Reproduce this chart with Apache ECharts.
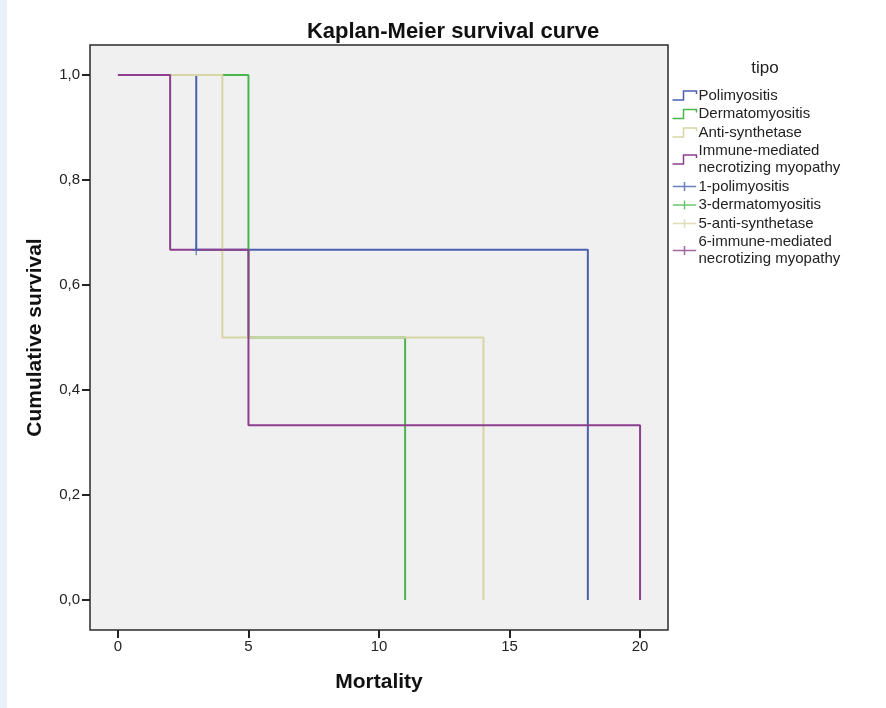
<html>
<head>
    <meta charset="utf-8">
    <script src="https://cdn.jsdelivr.net/npm/echarts@6/dist/echarts.min.js"></script>
    <title>Kaplan-Meier survival curve</title>
    <style>
        html, body { margin: 0; padding: 0; background: #fff; }
        #main { width: 886px; height: 708px; }
    </style>
</head>
<body>
    <div id="main"></div>
    <script>
        // survival steps per group (time, cumulative survival)
        const groupNames = ['Polimyositis', 'Dermatomyositis', 'Anti-synthetase', 'Immune-mediated necrotizing myopathy'];
        const censorNames = ['1-polimyositis', '3-dermatomyositis', '5-anti-synthetase', '6-immune-mediated necrotizing myopathy'];
        const colors = ['#4a60ae', '#48b64c', '#d8d5a4', '#8c3f8c'];

        const polTime = [0, 3, 18];
        const polSurv = [1, 0.667, 0];
        const dermTime = [0, 5, 11];
        const dermSurv = [1, 0.5, 0];
        const antiTime = [0, 4, 14];
        const antiSurv = [1, 0.5, 0];
        const immTime = [0, 2, 5, 20];
        const immSurv = [1, 0.667, 0.333, 0];

        // censored observations
        const polCensor = [[3, 0.667]];
        const dermCensor = [];
        const antiCensor = [];
        const immCensor = [];

        const xTicks = [0, 5, 10, 15, 20];
        const yTicks = [0, 0.2, 0.4, 0.6, 0.8, 1];

        const zip = (a, b) => a.map((v, i) => [v, b[i]]);
        const curves = [zip(polTime, polSurv), zip(dermTime, dermSurv), zip(antiTime, antiSurv), zip(immTime, immSurv)];
        const censors = [polCensor, dermCensor, antiCensor, immCensor];

        const stepIcon = 'path://M0,9 L11,9 L11,0 L24,0 L24,3';
        const crossIcon = 'path://M0,5 L26,5 M13,0 L13,10';
        const font = 'Liberation Sans';

        const drawOrder = [2, 1, 0, 3];
        const series = [];
        drawOrder.forEach(i => {
            series.push({
                name: groupNames[i],
                type: 'line',
                step: 'end',
                data: curves[i],
                symbol: 'none',
                lineStyle: { color: colors[i], width: 2 },
                itemStyle: { color: colors[i] },
                z: 2 + i,
                animation: false
            });
        });
        censors.forEach((c, i) => {
            series.push({
                name: censorNames[i],
                type: 'scatter',
                data: c,
                symbol: 'path://M5,0 L5,12 M0,6 L10,6',
                symbolSize: [8, 11],
                itemStyle: { color: 'none', borderColor: colors[i], borderWidth: 1.5 },
                z: 10,
                animation: false
            });
        });

        const legendData = groupNames.map((n, i) => ({
            name: n, icon: stepIcon,
            itemStyle: { color: 'none', borderColor: colors[i], borderWidth: 1.5 }
        })).concat(censorNames.map((n, i) => ({
            name: n, icon: crossIcon,
            itemStyle: { color: 'none', borderColor: colors[i], borderWidth: 1.5 }
        })));

        const wrapName = (name) => name
            .replace('Immune-mediated necrotizing', 'Immune-mediated\nnecrotizing')
            .replace('6-immune-mediated necrotizing', '6-immune-mediated\nnecrotizing');

        var myChart = echarts.init(document.getElementById('main'));
        myChart.setOption({
            backgroundColor: '#ffffff',
            animation: false,
            title: [{
                text: 'Kaplan-Meier survival curve',
                left: 448, top: 16, textAlign: 'center',
                textStyle: { fontFamily: font, fontSize: 22, fontWeight: 'bold', color: '#111' }
            }, {
                text: 'tipo',
                left: 760, top: 55, textAlign: 'center',
                textStyle: { fontFamily: font, fontSize: 17, fontWeight: 'normal', color: '#222' }
            }],
            graphic: [{
                type: 'rect', left: 0, top: 0, z: -1,
                shape: { width: 7, height: 708 },
                style: { fill: '#eaf0fa' }
            }],
            legend: {
                orient: 'vertical',
                left: 670, top: 87,
                padding: 0,
                itemWidth: 26, itemHeight: 9, itemGap: 1.5,
                selectedMode: false,
                data: legendData,
                formatter: wrapName,
                textStyle: { fontFamily: font, fontSize: 15, lineHeight: 17, color: '#222', padding: [0, 0, 0, -4] }
            },
            grid: {
                show: true,
                left: 90, top: 45, right: 218, bottom: 78,
                backgroundColor: '#f0f0f0',
                borderColor: '#2a2a2a', borderWidth: 1.5
            },
            xAxis: {
                type: 'value',
                min: -1.07, max: 21.07,
                name: 'Mortality',
                nameLocation: 'middle', nameGap: 42,
                nameTextStyle: { fontFamily: font, fontSize: 21, fontWeight: 'bold', color: '#111' },
                axisLine: { show: false, onZero: false },
                splitLine: { show: false },
                axisTick: { show: true, inside: false, customValues: xTicks, length: 8, lineStyle: { color: '#222', width: 2 } },
                axisLabel: { customValues: xTicks, margin: 9, fontFamily: font, fontSize: 15, color: '#222' }
            },
            yAxis: {
                type: 'value',
                min: -0.057, max: 1.057,
                name: 'Cumulative survival',
                nameLocation: 'middle', nameGap: 44,
                nameTextStyle: { fontFamily: font, fontSize: 21, fontWeight: 'bold', color: '#111' },
                axisLine: { show: false, onZero: false },
                splitLine: { show: false },
                axisTick: { show: true, inside: false, customValues: yTicks, length: 8, lineStyle: { color: '#222', width: 2 } },
                axisLabel: {
                    customValues: yTicks, margin: 10, fontFamily: font, fontSize: 15, color: '#222',
                    formatter: (v) => v.toFixed(1).replace('.', ',')
                }
            },
            series: series
        });
    </script>
</body>
</html>
